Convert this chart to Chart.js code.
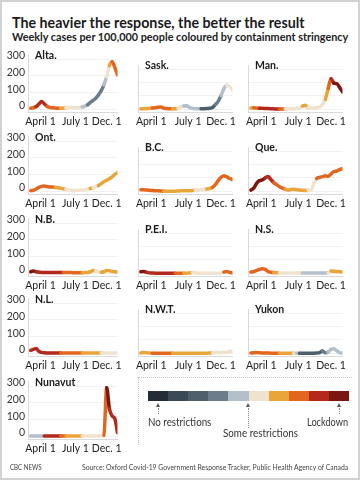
<!DOCTYPE html>
<html>
<head>
<meta charset="utf-8">
<script src="https://cdn.jsdelivr.net/npm/chart.js@4.4.0/dist/chart.umd.min.js"></script>
<style>
  html, body { margin: 0; padding: 0; background: #fff; }
  #frame { position: relative; width: 360px; height: 480px; overflow: hidden; background: #fff; }
  #frame canvas { position: absolute; }
  .txt { position: absolute; white-space: nowrap; transform-origin: 0 50%; }
  .edge { position: absolute; left: 0; top: 0; width: 360px; height: 480px; box-sizing: border-box; border: 2px solid #d2d2d2; pointer-events: none; }
</style>
</head>
<body>
<div id="frame"><div class="edge"></div></div>
<script>
// colour scale, no restrictions -> lockdown
const palette = ['#242c35', '#3b4954', '#4f5f6c', '#6c7c8a', '#b3c0ca', '#efe3cf', '#e9a53a', '#e3661e', '#b3291c', '#7a1710']

const weeks = [0, 1, 2, 3, 4, 5, 6, 7, 8, 9, 10, 11, 12, 13, 14, 15, 16, 17, 18, 19, 20, 21, 22, 23, 24, 25, 26, 27, 28, 29, 30, 31, 32]
const tickWeeks = [3.6, 16.5, 28]
const tickLabels = ['April 1', 'July 1', 'Dec. 1']
const yTicks = [0, 100, 200, 300]

// weekly cases per 100,000 and stringency level (index into palette)
const altaCases = [5, 8, 15, 30, 45, 32, 16, 10, 8, 6, 5, 5, 6, 8, 10, 10, 9, 8, 9, 12, 18, 26, 40, 52, 65, 85, 110, 145, 195, 260, 283, 250, 205]
const altaLevel = [7, 7, 8, 8, 8, 8, 7, 7, 7, 7, 7, 6, 6, 5, 5, 5, 5, 5, 5, 4, 4, 3, 3, 3, 3, 3, 3, 4, 5, 6, 7, 7, 7]
const saskCases = [5, 5, 6, 8, 10, 12, 16, 18, 10, 6, 4, 4, 5, 8, 18, 25, 28, 15, 8, 5, 4, 4, 5, 6, 8, 14, 36, 60, 104, 155, 180, 170, 144]
const saskLevel = [6, 6, 6, 6, 7, 7, 7, 7, 7, 7, 7, 6, 6, 5, 5, 4, 4, 4, 4, 4, 4, 2, 2, 2, 2, 2, 3, 3, 4, 4, 5, 5, 5]
const manCases = [10, 12, 10, 8, 8, 7, 6, 5, 4, 3, 3, 3, 3, 4, 5, 6, 8, 12, 25, 30, 15, 10, 10, 12, 18, 36, 74, 156, 228, 195, 192, 163, 130]
const manLevel = [6, 7, 7, 8, 8, 8, 8, 8, 8, 8, 7, 7, 5, 5, 5, 5, 5, 5, 6, 6, 5, 5, 5, 5, 5, 5, 6, 7, 8, 9, 9, 9, 8]
const ontCases = [2, 5, 12, 22, 28, 30, 27, 25, 24, 22, 20, 17, 14, 10, 7, 5, 4, 4, 5, 6, 8, 12, 15, 20, 26, 33, 45, 56, 65, 74, 85, 100, 110]
const ontLevel = [7, 7, 7, 7, 7, 7, 7, 7, 7, 6, 6, 6, 6, 5, 5, 5, 5, 5, 5, 5, 5, 5, 6, 5, 5, 6, 6, 6, 6, 6, 6, 6, 6]
const bcCases = [12, 12, 10, 8, 6, 5, 4, 3, 2, 2, 2, 2, 2, 3, 4, 5, 5, 5, 6, 8, 10, 12, 14, 18, 22, 30, 50, 80, 104, 116, 108, 96, 88]
const bcLevel = [7, 7, 7, 7, 7, 7, 7, 7, 6, 6, 6, 6, 6, 6, 6, 6, 6, 6, 6, 5, 5, 5, 5, 6, 6, 7, 7, 7, 7, 7, 7, 7, 6]
const queCases = [10, 25, 60, 80, 85, 100, 110, 88, 65, 50, 35, 24, 16, 10, 14, 16, 12, 10, 8, 7, 8, 10, 60, 96, 104, 110, 116, 112, 130, 148, 152, 162, 168]
const queLevel = [9, 9, 9, 9, 9, 8, 8, 8, 7, 7, 7, 7, 6, 6, 6, 6, 6, 6, 6, 6, 5, 5, 5, 7, 7, 7, 7, 7, 7, 7, 7, 7, 7]
const nbCases = [8, 12, 8, 5, 4, 3, 3, 3, 3, 3, 3, 3, 3, 3, 3, 3, 2, 2, 2, 2, 3, 4, 8, 15, 14, 6, 5, 8, 15, 14, 10, 8, 6]
const nbLevel = [9, 9, 8, 8, 8, 8, 8, 8, 8, 8, 8, 8, 7, 7, 7, 7, 7, 7, 7, 6, 6, 6, 6, 6, 5, 5, 6, 6, 6, 6, 6, 6, 6]
const peiCases = [12, 15, 8, 4, 3, 2, 2, 2, 2, 2, 2, 2, 2, 2, 2, 2, 2, 4, 6, 4, 2, 2, 2, 2, 2, 2, 2, 2, 2, 10, 14, 8, 4]
const peiLevel = [9, 9, 8, 8, 8, 8, 8, 8, 8, 8, 8, 8, 7, 7, 7, 6, 6, 6, 5, 5, 5, 5, 5, 5, 5, 5, 5, 5, 5, 7, 7, 7, 7]
const nsCases = [10, 14, 22, 30, 34, 30, 14, 8, 6, 5, 4, 3, 3, 3, 3, 3, 3, 3, 3, 3, 3, 3, 3, 3, 3, 3, 3, 4, 18, 16, 14, 12, 10]
const nsLevel = [7, 7, 7, 7, 7, 7, 7, 7, 6, 6, 5, 5, 5, 5, 5, 5, 5, 5, 4, 4, 4, 4, 4, 4, 4, 4, 4, 5, 6, 6, 6, 6, 6]
const nlCases = [16, 22, 28, 10, 4, 2, 1, 1, 1, 1, 1, 1, 1, 1, 1, 1, 1, 1, 1, 1, 1, 1, 1, 1, 1, 1, 1, 1, 1, 1, 1, 1, 1]
const nlLevel = [8, 8, 8, 8, 8, 8, 8, 8, 8, 8, 8, 7, 7, 7, 7, 7, 7, 7, 7, 6, 6, 6, 6, 6, 6, 6, 5, 5, 5, 5, 5, 5, 5]
const nwtCases = [3, 6, 5, 3, 2, 2, 2, 2, 2, 2, 2, 2, 2, 2, 2, 2, 2, 2, 2, 2, 2, 2, 2, 2, 3, 4, 8, 4, 5, 9, 6, 16, 8]
const nwtLevel = [6, 6, 6, 6, 7, 7, 7, 7, 7, 7, 7, 6, 6, 6, 6, 6, 6, 6, 6, 6, 6, 6, 6, 6, 6, 5, 5, 5, 5, 5, 5, 5, 5]
const yukonCases = [3, 4, 6, 4, 3, 3, 3, 2, 2, 2, 2, 2, 2, 2, 2, 2, 2, 2, 2, 2, 2, 2, 2, 3, 6, 18, 4, 10, 30, 34, 20, 6, 3]
const yukonLevel = [7, 7, 7, 7, 7, 7, 7, 7, 7, 7, 6, 6, 6, 6, 6, 5, 4, 2, 2, 2, 2, 2, 2, 2, 2, 3, 3, 4, 4, 4, 4, 4, 4]
const nunavutCases = [0, 0, 0, 0, 0, 0, 0, 0, 0, 0, 0, 0, 0, 0, 0, 0, 0, 0, 0, 0, 0, 0, 0, 0, 0, 0, 1, 5, 290, 165, 120, 105, 20]
const nunavutLevel = [4, 4, 4, 4, 4, 8, 8, 8, 8, 8, 8, 7, 7, 6, 6, 6, 6, 6, 6, 5, 5, 5, 5, 5, 5, 5, 5, 7, 9, 8, 8, 8, 7]

const panels = [
  ['Alta.', altaCases, altaLevel], ['Sask.', saskCases, saskLevel], ['Man.', manCases, manLevel],
  ['Ont.', ontCases, ontLevel], ['B.C.', bcCases, bcLevel], ['Que.', queCases, queLevel],
  ['N.B.', nbCases, nbLevel], ['P.E.I.', peiCases, peiLevel], ['N.S.', nsCases, nsLevel],
  ['N.L.', nlCases, nlLevel], ['N.W.T.', nwtCases, nwtLevel], ['Yukon', yukonCases, yukonLevel],
  ['Nunavut', nunavutCases, nunavutLevel]
]

const family = "Lato, 'Open Sans', sans-serif"
const frame = document.getElementById('frame')
const zeroY = [109, 191, 273, 353, 436]
const plotLeft = [28, 138, 248]
const plotWidth = [100, 102, 102]
const yMin = -20
const yMax = 330
const plotHeight = (yMax - yMin) / 6

Chart.defaults.font.family = family

const panelName = {
  id: 'panelName',
  afterDraw(chart, args, opts) {
    const { ctx, chartArea } = chart
    ctx.save()
    ctx.font = 'bold 10.5px ' + family
    ctx.fillStyle = '#1b1b1b'
    ctx.textBaseline = 'middle'
    ctx.fillText(opts.text, chartArea.left + 7, chart.scales.y.getPixelForValue(300) - 3)
    ctx.restore()
  }
}

function makePanel(name, cases, level, row, col) {
  const canvas = document.createElement('canvas')
  canvas.width = 140
  canvas.height = 100
  frame.appendChild(canvas)

  const chart = new Chart(canvas, {
    type: 'line',
    data: {
      labels: weeks,
      datasets: [{
        data: cases,
        borderWidth: 3.5,
        pointRadius: 0,
        borderCapStyle: 'round',
        borderJoinStyle: 'round',
        cubicInterpolationMode: 'monotone',
        segment: {
          borderColor: ctx => palette[level[ctx.p0DataIndex]]
        }
      }]
    },
    options: {
      responsive: false,
      animation: false,
      devicePixelRatio: 1,
      layout: { padding: { top: 10, right: 4 } },
      plugins: {
        legend: { display: false },
        tooltip: { enabled: false },
        panelName: { text: name }
      },
      scales: {
        x: {
          type: 'linear',
          min: -1,
          max: 32,
          afterBuildTicks: s => { s.ticks = tickWeeks.map(v => ({ value: v })) },
          grid: { display: false, drawTicks: false },
          border: { color: '#dadada', width: 1 },
          ticks: {
            padding: 3,
            color: '#222',
            font: { size: 10.5 },
            maxRotation: 0,
            autoSkip: false,
            callback: (v, i) => tickLabels[i]
          }
        },
        y: {
          min: yMin,
          max: yMax,
          afterBuildTicks: s => { s.ticks = yTicks.map(v => ({ value: v })) },
          afterFit: s => { s.width = col === 0 ? 24 : 0 },
          grid: { color: '#f1f1f1', drawTicks: false },
          border: { color: '#dadada', width: 1 },
          ticks: {
            display: col === 0,
            padding: 3,
            labelOffset: -3,
            color: '#333',
            font: { size: 10.5 },
            callback: v => v
          }
        }
      }
    },
    plugins: [panelName]
  })

  // size the canvas so the plot area is exactly the wanted box, then place it
  let a = chart.chartArea
  chart.resize(
    Math.round(canvas.width + plotWidth[col] - (a.right - a.left)),
    Math.round(canvas.height + plotHeight - (a.bottom - a.top))
  )
  a = chart.chartArea
  canvas.style.left = (plotLeft[col] - a.left) + 'px'
  canvas.style.top = (zeroY[row] - chart.scales.y.getPixelForValue(0)) + 'px'
}

panels.forEach((p, i) => makePanel(p[0], p[1], p[2], Math.floor(i / 3), i % 3))

function label(text, x, yc, w, size, weight, color) {
  const el = document.createElement('div')
  el.className = 'txt'
  el.textContent = text
  el.style.font = weight + ' ' + size + 'px ' + family
  el.style.lineHeight = (size * 1.2) + 'px'
  el.style.color = color
  frame.appendChild(el)
  el.style.left = x + 'px'
  el.style.top = (yc - size * 0.6) + 'px'
  el.style.transform = 'scaleX(' + (w / el.offsetWidth) + ')'
}

function box(x, y, w, h, css) {
  const el = document.createElement('div')
  el.style.position = 'absolute'
  el.style.left = x + 'px'
  el.style.top = y + 'px'
  el.style.width = w + 'px'
  el.style.height = h + 'px'
  el.style.cssText += css
  frame.appendChild(el)
}

label('The heavier the response, the better the result', 12, 22, 293, 15, 700, '#1a1a1a')
label('Weekly cases per 100,000 people coloured by containment stringency', 12, 37, 336, 11.5, 700, '#222')

// legend
box(138, 377, 214, 0, 'border-top:1px dotted #c4c4c4')
box(138, 377, 0, 68, 'border-left:1px dotted #c4c4c4')
palette.forEach((c, i) => box(148 + i * 20.1, 391, 20.2, 10, 'background:' + c))

const arrows = [[158, 414], [248, 428], [339, 414]]
arrows.forEach(([x, y2]) => {
  box(x - 2, 403, 0, 0, 'border-left:2px solid transparent;border-right:2px solid transparent;border-bottom:4px solid #555')
  box(x, 408, 0, y2 - 408, 'border-left:1px dotted #888')
})
label('No restrictions', 148, 422, 63, 11, 400, '#333')
label('Lockdown', 307, 422, 41, 11, 400, '#333')
label('Some restrictions', 223, 433, 75, 11, 400, '#333')

label('CBC NEWS', 10, 467, 32, 7.5, 400, '#444')
label('Source: Oxford Covid-19 Government Response Tracker, Public Health Agency of Canada', 82, 467, 266, 7.5, 400, '#444')
</script>
</body>
</html>
